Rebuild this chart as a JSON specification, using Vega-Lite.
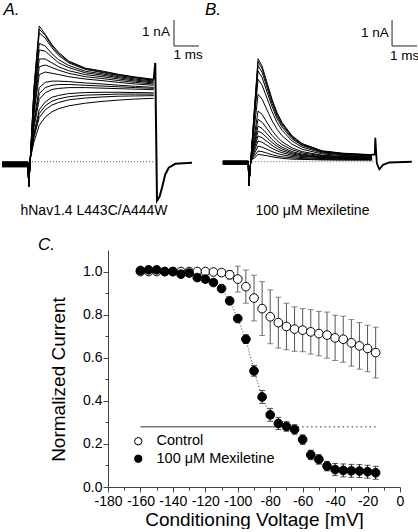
{
"$schema": "https://vega.github.io/schema/vega-lite/v6.json",
"padding": 0,
"background": "white",
"spacing": 19,
"config": {"view": {"stroke": null}, "font": "Liberation Sans", "axis": {"labelFont": "Liberation Sans", "titleFont": "Liberation Sans", "grid": false}},
"datasets": {
"baseA": [{"t": 0, "i": 0}, {"t": 5.05, "i": 0}],
"baseB": [{"t": 0, "i": 0}, {"t": 5.0, "i": 0}],
"barsA": [{"t": 5.8, "i": 4.45, "t2": 5.8, "i2": 5.45}, {"t": 5.8, "i": 4.45, "t2": 6.8, "i2": 4.45}],
"barsB": [{"t": 5.71, "i": 4.45, "t2": 5.71, "i2": 5.45}, {"t": 5.71, "i": 4.45, "t2": 6.71, "i2": 4.45}],
"labelsA": [{"t": 5.08, "i": 4.99, "label": "1 nA"}, {"t": 6.36, "i": 4.1, "label": "1 ms"}],
"labelsB": [{"t": 5.02, "i": 4.95, "label": "1 nA"}, {"t": 6.21, "i": 4.07, "label": "1 ms"}],
"letterA": [{"t": -0.7, "i": 5.85, "label": "A."}],
"letterB": [{"t": -1.45, "i": 5.85, "label": "B."}],
"tailA": [{"t": 4.99, "i": 3.17}, {"t": 5.05, "i": 3.8}, {"t": 5.12, "i": -1.5}, {"t": 5.22, "i": -1.35}, {"t": 5.32, "i": -1.0}, {"t": 5.45, "i": -0.49}, {"t": 5.59, "i": -0.23}, {"t": 5.85, "i": -0.08}, {"t": 6.52, "i": -0.04}],
"tailB": [{"t": 4.91, "i": 0.27}, {"t": 5.02, "i": 0.27}, {"t": 5.04, "i": 0.92}, {"t": 5.1, "i": -0.05}, {"t": 5.2, "i": -0.29}, {"t": 5.35, "i": -0.12}, {"t": 5.6, "i": -0.03}, {"t": 6.5, "i": 0}],
"tracesA": [
{"k":"a1","t":-1.08,"i":-0.2},{"k":"a1","t":-0.04,"i":-0.2},{"k":"a1","t":-0.01,"i":-0.94},{"k":"a1","t":0.05,"i":0.1},{"k":"a1","t":0.2,"i":2.87},{"k":"a1","t":0.41,"i":5.22},{"k":"a1","t":0.65,"i":4.9},{"k":"a1","t":0.92,"i":4.5},{"k":"a1","t":1.19,"i":4.2},{"k":"a1","t":1.59,"i":3.87},{"k":"a1","t":2.25,"i":3.6},{"k":"a1","t":2.92,"i":3.49},{"k":"a1","t":3.59,"i":3.36},{"k":"a1","t":4.25,"i":3.26},{"k":"a1","t":4.99,"i":3.17},
{"k":"a2","t":-1.08,"i":-0.18},{"k":"a2","t":-0.04,"i":-0.18},{"k":"a2","t":-0.01,"i":-0.94},{"k":"a2","t":0.05,"i":0.1},{"k":"a2","t":0.2,"i":2.8},{"k":"a2","t":0.41,"i":5.1},{"k":"a2","t":0.65,"i":4.85},{"k":"a2","t":0.92,"i":4.45},{"k":"a2","t":1.19,"i":4.15},{"k":"a2","t":1.59,"i":3.84},{"k":"a2","t":2.25,"i":3.58},{"k":"a2","t":2.92,"i":3.46},{"k":"a2","t":3.59,"i":3.34},{"k":"a2","t":4.25,"i":3.24},{"k":"a2","t":4.99,"i":3.15},
{"k":"a3","t":-1.08,"i":-0.16},{"k":"a3","t":-0.04,"i":-0.16},{"k":"a3","t":-0.01,"i":-0.94},{"k":"a3","t":0.05,"i":0.1},{"k":"a3","t":0.2,"i":2.72},{"k":"a3","t":0.41,"i":4.95},{"k":"a3","t":0.65,"i":4.75},{"k":"a3","t":0.92,"i":4.38},{"k":"a3","t":1.19,"i":4.08},{"k":"a3","t":1.59,"i":3.8},{"k":"a3","t":2.25,"i":3.55},{"k":"a3","t":2.92,"i":3.43},{"k":"a3","t":3.59,"i":3.31},{"k":"a3","t":4.25,"i":3.22},{"k":"a3","t":4.99,"i":3.13},
{"k":"a4","t":-1.08,"i":-0.14},{"k":"a4","t":-0.04,"i":-0.14},{"k":"a4","t":-0.01,"i":-0.94},{"k":"a4","t":0.05,"i":0.1},{"k":"a4","t":0.2,"i":2.5},{"k":"a4","t":0.41,"i":4.55},{"k":"a4","t":0.65,"i":4.45},{"k":"a4","t":0.92,"i":4.15},{"k":"a4","t":1.19,"i":3.92},{"k":"a4","t":1.59,"i":3.7},{"k":"a4","t":2.25,"i":3.48},{"k":"a4","t":2.92,"i":3.38},{"k":"a4","t":3.59,"i":3.27},{"k":"a4","t":4.25,"i":3.18},{"k":"a4","t":4.99,"i":3.1},
{"k":"a5","t":-1.08,"i":-0.13},{"k":"a5","t":-0.04,"i":-0.13},{"k":"a5","t":-0.01,"i":-0.94},{"k":"a5","t":0.05,"i":0.1},{"k":"a5","t":0.2,"i":2.35},{"k":"a5","t":0.41,"i":4.3},{"k":"a5","t":0.65,"i":4.25},{"k":"a5","t":0.92,"i":4.02},{"k":"a5","t":1.19,"i":3.8},{"k":"a5","t":1.59,"i":3.62},{"k":"a5","t":2.25,"i":3.42},{"k":"a5","t":2.92,"i":3.33},{"k":"a5","t":3.59,"i":3.23},{"k":"a5","t":4.25,"i":3.14},{"k":"a5","t":4.99,"i":3.07},
{"k":"a6","t":-1.08,"i":-0.12},{"k":"a6","t":-0.04,"i":-0.12},{"k":"a6","t":-0.01,"i":-0.94},{"k":"a6","t":0.05,"i":0.1},{"k":"a6","t":0.2,"i":2.17},{"k":"a6","t":0.41,"i":3.95},{"k":"a6","t":0.65,"i":3.95},{"k":"a6","t":0.92,"i":3.8},{"k":"a6","t":1.19,"i":3.65},{"k":"a6","t":1.59,"i":3.5},{"k":"a6","t":2.25,"i":3.35},{"k":"a6","t":2.92,"i":3.27},{"k":"a6","t":3.59,"i":3.18},{"k":"a6","t":4.25,"i":3.1},{"k":"a6","t":4.99,"i":3.03},
{"k":"a7","t":-1.08,"i":-0.11},{"k":"a7","t":-0.04,"i":-0.11},{"k":"a7","t":-0.01,"i":-0.94},{"k":"a7","t":0.05,"i":0.1},{"k":"a7","t":0.2,"i":2.0},{"k":"a7","t":0.41,"i":3.65},{"k":"a7","t":0.65,"i":3.72},{"k":"a7","t":0.92,"i":3.62},{"k":"a7","t":1.19,"i":3.52},{"k":"a7","t":1.59,"i":3.4},{"k":"a7","t":2.25,"i":3.27},{"k":"a7","t":2.92,"i":3.2},{"k":"a7","t":3.59,"i":3.12},{"k":"a7","t":4.25,"i":3.05},{"k":"a7","t":4.99,"i":2.99},
{"k":"a8","t":-1.08,"i":-0.1},{"k":"a8","t":-0.04,"i":-0.1},{"k":"a8","t":-0.01,"i":-0.94},{"k":"a8","t":0.05,"i":0.1},{"k":"a8","t":0.2,"i":1.84},{"k":"a8","t":0.41,"i":3.35},{"k":"a8","t":0.65,"i":3.45},{"k":"a8","t":0.92,"i":3.4},{"k":"a8","t":1.19,"i":3.35},{"k":"a8","t":1.59,"i":3.27},{"k":"a8","t":2.25,"i":3.18},{"k":"a8","t":2.92,"i":3.12},{"k":"a8","t":3.59,"i":3.05},{"k":"a8","t":4.25,"i":2.99},{"k":"a8","t":4.99,"i":2.94},
{"k":"a9","t":-1.08,"i":-0.08},{"k":"a9","t":-0.04,"i":-0.08},{"k":"a9","t":-0.01,"i":-0.94},{"k":"a9","t":0.05,"i":0.1},{"k":"a9","t":0.2,"i":1.57},{"k":"a9","t":0.41,"i":2.85},{"k":"a9","t":0.65,"i":3.05},{"k":"a9","t":0.92,"i":3.1},{"k":"a9","t":1.19,"i":3.1},{"k":"a9","t":1.59,"i":3.08},{"k":"a9","t":2.25,"i":3.03},{"k":"a9","t":2.92,"i":2.99},{"k":"a9","t":3.59,"i":2.94},{"k":"a9","t":4.25,"i":2.9},{"k":"a9","t":4.99,"i":2.86},
{"k":"a10","t":-1.08,"i":-0.07},{"k":"a10","t":-0.04,"i":-0.07},{"k":"a10","t":-0.01,"i":-0.94},{"k":"a10","t":0.05,"i":0.1},{"k":"a10","t":0.2,"i":1.45},{"k":"a10","t":0.41,"i":2.62},{"k":"a10","t":0.65,"i":2.85},{"k":"a10","t":0.92,"i":2.94},{"k":"a10","t":1.19,"i":2.97},{"k":"a10","t":1.59,"i":2.97},{"k":"a10","t":2.25,"i":2.94},{"k":"a10","t":2.92,"i":2.91},{"k":"a10","t":3.59,"i":2.88},{"k":"a10","t":4.25,"i":2.85},{"k":"a10","t":4.99,"i":2.82},
{"k":"a11","t":-1.08,"i":-0.06},{"k":"a11","t":-0.04,"i":-0.06},{"k":"a11","t":-0.01,"i":-0.94},{"k":"a11","t":0.05,"i":0.1},{"k":"a11","t":0.2,"i":1.32},{"k":"a11","t":0.41,"i":2.4},{"k":"a11","t":0.65,"i":2.65},{"k":"a11","t":0.92,"i":2.78},{"k":"a11","t":1.19,"i":2.82},{"k":"a11","t":1.59,"i":2.85},{"k":"a11","t":2.25,"i":2.85},{"k":"a11","t":2.92,"i":2.83},{"k":"a11","t":3.59,"i":2.81},{"k":"a11","t":4.25,"i":2.79},{"k":"a11","t":4.99,"i":2.77},
{"k":"a12","t":-1.08,"i":-0.04},{"k":"a12","t":-0.04,"i":-0.04},{"k":"a12","t":-0.01,"i":-0.94},{"k":"a12","t":0.05,"i":0.1},{"k":"a12","t":0.2,"i":1.1},{"k":"a12","t":0.41,"i":2.0},{"k":"a12","t":0.65,"i":2.3},{"k":"a12","t":0.92,"i":2.48},{"k":"a12","t":1.19,"i":2.55},{"k":"a12","t":1.59,"i":2.62},{"k":"a12","t":2.25,"i":2.66},{"k":"a12","t":2.92,"i":2.67},{"k":"a12","t":3.59,"i":2.67},{"k":"a12","t":4.25,"i":2.66},{"k":"a12","t":4.99,"i":2.65},
{"k":"a13","t":-1.08,"i":-0.03},{"k":"a13","t":-0.04,"i":-0.03},{"k":"a13","t":-0.01,"i":-0.94},{"k":"a13","t":0.05,"i":0.1},{"k":"a13","t":0.2,"i":1.02},{"k":"a13","t":0.41,"i":1.85},{"k":"a13","t":0.65,"i":2.15},{"k":"a13","t":0.92,"i":2.33},{"k":"a13","t":1.19,"i":2.42},{"k":"a13","t":1.59,"i":2.5},{"k":"a13","t":2.25,"i":2.56},{"k":"a13","t":2.92,"i":2.58},{"k":"a13","t":3.59,"i":2.6},{"k":"a13","t":4.25,"i":2.6},{"k":"a13","t":4.99,"i":2.6},
{"k":"a14","t":-1.08,"i":-0.02},{"k":"a14","t":-0.04,"i":-0.02},{"k":"a14","t":-0.01,"i":-0.94},{"k":"a14","t":0.05,"i":0.1},{"k":"a14","t":0.2,"i":0.94},{"k":"a14","t":0.41,"i":1.7},{"k":"a14","t":0.65,"i":2.0},{"k":"a14","t":0.92,"i":2.18},{"k":"a14","t":1.19,"i":2.28},{"k":"a14","t":1.59,"i":2.38},{"k":"a14","t":2.25,"i":2.45},{"k":"a14","t":2.92,"i":2.49},{"k":"a14","t":3.59,"i":2.52},{"k":"a14","t":4.25,"i":2.53},{"k":"a14","t":4.99,"i":2.54},
{"k":"a15","t":-1.08,"i":0.0},{"k":"a15","t":-0.04,"i":0.0},{"k":"a15","t":-0.01,"i":-0.94},{"k":"a15","t":0.05,"i":0.1},{"k":"a15","t":0.2,"i":0.77},{"k":"a15","t":0.41,"i":1.4},{"k":"a15","t":0.65,"i":1.72},{"k":"a15","t":0.92,"i":1.92},{"k":"a15","t":1.19,"i":2.04},{"k":"a15","t":1.59,"i":2.15},{"k":"a15","t":2.25,"i":2.25},{"k":"a15","t":2.92,"i":2.32},{"k":"a15","t":3.59,"i":2.37},{"k":"a15","t":4.25,"i":2.41},{"k":"a15","t":4.99,"i":2.44}
],
"tracesB": [
{"k":"b1","t":-1.06,"i":-0.1},{"k":"b1","t":-0.04,"i":-0.1},{"k":"b1","t":-0.02,"i":-0.93},{"k":"b1","t":0.06,"i":0.05},{"k":"b1","t":0.2,"i":1.98},{"k":"b1","t":0.35,"i":3.96},{"k":"b1","t":0.51,"i":3.68},{"k":"b1","t":0.71,"i":3.04},{"k":"b1","t":0.91,"i":2.4},{"k":"b1","t":1.11,"i":1.89},{"k":"b1","t":1.31,"i":1.51},{"k":"b1","t":1.71,"i":1.0},{"k":"b1","t":2.11,"i":0.7},{"k":"b1","t":2.91,"i":0.42},{"k":"b1","t":3.71,"i":0.33},{"k":"b1","t":4.91,"i":0.27},
{"k":"b2","t":-1.06,"i":-0.09},{"k":"b2","t":-0.04,"i":-0.09},{"k":"b2","t":-0.02,"i":-0.93},{"k":"b2","t":0.06,"i":0.05},{"k":"b2","t":0.2,"i":1.93},{"k":"b2","t":0.35,"i":3.85},{"k":"b2","t":0.51,"i":3.58},{"k":"b2","t":0.71,"i":2.96},{"k":"b2","t":0.91,"i":2.34},{"k":"b2","t":1.11,"i":1.83},{"k":"b2","t":1.31,"i":1.46},{"k":"b2","t":1.71,"i":0.97},{"k":"b2","t":2.11,"i":0.68},{"k":"b2","t":2.91,"i":0.41},{"k":"b2","t":3.71,"i":0.32},{"k":"b2","t":4.91,"i":0.26},
{"k":"b3","t":-1.06,"i":-0.08},{"k":"b3","t":-0.04,"i":-0.08},{"k":"b3","t":-0.02,"i":-0.93},{"k":"b3","t":0.06,"i":0.05},{"k":"b3","t":0.2,"i":1.85},{"k":"b3","t":0.35,"i":3.7},{"k":"b3","t":0.51,"i":3.44},{"k":"b3","t":0.71,"i":2.84},{"k":"b3","t":0.91,"i":2.24},{"k":"b3","t":1.11,"i":1.76},{"k":"b3","t":1.31,"i":1.41},{"k":"b3","t":1.71,"i":0.93},{"k":"b3","t":2.11,"i":0.65},{"k":"b3","t":2.91,"i":0.39},{"k":"b3","t":3.71,"i":0.31},{"k":"b3","t":4.91,"i":0.25},
{"k":"b4","t":-1.06,"i":-0.07},{"k":"b4","t":-0.04,"i":-0.07},{"k":"b4","t":-0.02,"i":-0.93},{"k":"b4","t":0.06,"i":0.05},{"k":"b4","t":0.2,"i":1.75},{"k":"b4","t":0.35,"i":3.49},{"k":"b4","t":0.51,"i":3.24},{"k":"b4","t":0.71,"i":2.68},{"k":"b4","t":0.91,"i":2.12},{"k":"b4","t":1.11,"i":1.66},{"k":"b4","t":1.31,"i":1.33},{"k":"b4","t":1.71,"i":0.88},{"k":"b4","t":2.11,"i":0.62},{"k":"b4","t":2.91,"i":0.37},{"k":"b4","t":3.71,"i":0.29},{"k":"b4","t":4.91,"i":0.24},
{"k":"b5","t":-1.06,"i":-0.06},{"k":"b5","t":-0.04,"i":-0.06},{"k":"b5","t":-0.02,"i":-0.93},{"k":"b5","t":0.06,"i":0.05},{"k":"b5","t":0.2,"i":1.59},{"k":"b5","t":0.35,"i":3.17},{"k":"b5","t":0.51,"i":2.95},{"k":"b5","t":0.71,"i":2.44},{"k":"b5","t":0.91,"i":1.93},{"k":"b5","t":1.11,"i":1.51},{"k":"b5","t":1.31,"i":1.21},{"k":"b5","t":1.71,"i":0.8},{"k":"b5","t":2.11,"i":0.56},{"k":"b5","t":2.91,"i":0.34},{"k":"b5","t":3.71,"i":0.27},{"k":"b5","t":4.91,"i":0.22},
{"k":"b6","t":-1.06,"i":-0.05},{"k":"b6","t":-0.04,"i":-0.05},{"k":"b6","t":-0.02,"i":-0.93},{"k":"b6","t":0.06,"i":0.05},{"k":"b6","t":0.2,"i":1.3},{"k":"b6","t":0.35,"i":2.59},{"k":"b6","t":0.51,"i":2.41},{"k":"b6","t":0.71,"i":1.99},{"k":"b6","t":0.91,"i":1.58},{"k":"b6","t":1.11,"i":1.25},{"k":"b6","t":1.31,"i":1.0},{"k":"b6","t":1.71,"i":0.67},{"k":"b6","t":2.11,"i":0.48},{"k":"b6","t":2.91,"i":0.3},{"k":"b6","t":3.71,"i":0.24},{"k":"b6","t":4.91,"i":0.2},
{"k":"b7","t":-1.06,"i":-0.04},{"k":"b7","t":-0.04,"i":-0.04},{"k":"b7","t":-0.02,"i":-0.93},{"k":"b7","t":0.06,"i":0.05},{"k":"b7","t":0.2,"i":0.98},{"k":"b7","t":0.35,"i":1.95},{"k":"b7","t":0.51,"i":1.82},{"k":"b7","t":0.71,"i":1.51},{"k":"b7","t":0.91,"i":1.2},{"k":"b7","t":1.11,"i":0.96},{"k":"b7","t":1.31,"i":0.77},{"k":"b7","t":1.71,"i":0.53},{"k":"b7","t":2.11,"i":0.39},{"k":"b7","t":2.91,"i":0.25},{"k":"b7","t":3.71,"i":0.21},{"k":"b7","t":4.91,"i":0.18},
{"k":"b8","t":-1.06,"i":-0.03},{"k":"b8","t":-0.04,"i":-0.03},{"k":"b8","t":-0.02,"i":-0.93},{"k":"b8","t":0.06,"i":0.05},{"k":"b8","t":0.2,"i":0.82},{"k":"b8","t":0.35,"i":1.63},{"k":"b8","t":0.51,"i":1.52},{"k":"b8","t":0.71,"i":1.27},{"k":"b8","t":0.91,"i":1.01},{"k":"b8","t":1.11,"i":0.81},{"k":"b8","t":1.31,"i":0.66},{"k":"b8","t":1.71,"i":0.46},{"k":"b8","t":2.11,"i":0.34},{"k":"b8","t":2.91,"i":0.23},{"k":"b8","t":3.71,"i":0.19},{"k":"b8","t":4.91,"i":0.17},
{"k":"b9","t":-1.06,"i":-0.02},{"k":"b9","t":-0.04,"i":-0.02},{"k":"b9","t":-0.02,"i":-0.93},{"k":"b9","t":0.06,"i":0.05},{"k":"b9","t":0.2,"i":0.69},{"k":"b9","t":0.35,"i":1.37},{"k":"b9","t":0.51,"i":1.28},{"k":"b9","t":0.71,"i":1.07},{"k":"b9","t":0.91,"i":0.86},{"k":"b9","t":1.11,"i":0.68},{"k":"b9","t":1.31,"i":0.56},{"k":"b9","t":1.71,"i":0.39},{"k":"b9","t":2.11,"i":0.29},{"k":"b9","t":2.91,"i":0.2},{"k":"b9","t":3.71,"i":0.17},{"k":"b9","t":4.91,"i":0.15},
{"k":"b10","t":-1.06,"i":-0.01},{"k":"b10","t":-0.04,"i":-0.01},{"k":"b10","t":-0.02,"i":-0.93},{"k":"b10","t":0.06,"i":0.05},{"k":"b10","t":0.2,"i":0.59},{"k":"b10","t":0.35,"i":1.18},{"k":"b10","t":0.51,"i":1.1},{"k":"b10","t":0.71,"i":0.92},{"k":"b10","t":0.91,"i":0.74},{"k":"b10","t":1.11,"i":0.6},{"k":"b10","t":1.31,"i":0.49},{"k":"b10","t":1.71,"i":0.34},{"k":"b10","t":2.11,"i":0.26},{"k":"b10","t":2.91,"i":0.18},{"k":"b10","t":3.71,"i":0.16},{"k":"b10","t":4.91,"i":0.14},
{"k":"b11","t":-1.06,"i":0.0},{"k":"b11","t":-0.04,"i":0.0},{"k":"b11","t":-0.02,"i":-0.93},{"k":"b11","t":0.06,"i":0.05},{"k":"b11","t":0.2,"i":0.5},{"k":"b11","t":0.35,"i":0.99},{"k":"b11","t":0.51,"i":0.92},{"k":"b11","t":0.71,"i":0.78},{"k":"b11","t":0.91,"i":0.63},{"k":"b11","t":1.11,"i":0.51},{"k":"b11","t":1.31,"i":0.42},{"k":"b11","t":1.71,"i":0.3},{"k":"b11","t":2.11,"i":0.23},{"k":"b11","t":2.91,"i":0.17},{"k":"b11","t":3.71,"i":0.14},{"k":"b11","t":4.91,"i":0.13},
{"k":"b12","t":-1.06,"i":0.01},{"k":"b12","t":-0.04,"i":0.01},{"k":"b12","t":-0.02,"i":-0.93},{"k":"b12","t":0.06,"i":0.05},{"k":"b12","t":0.2,"i":0.4},{"k":"b12","t":0.35,"i":0.8},{"k":"b12","t":0.51,"i":0.75},{"k":"b12","t":0.71,"i":0.63},{"k":"b12","t":0.91,"i":0.51},{"k":"b12","t":1.11,"i":0.42},{"k":"b12","t":1.31,"i":0.35},{"k":"b12","t":1.71,"i":0.25},{"k":"b12","t":2.11,"i":0.2},{"k":"b12","t":2.91,"i":0.15},{"k":"b12","t":3.71,"i":0.13},{"k":"b12","t":4.91,"i":0.12},
{"k":"b13","t":-1.06,"i":0.02},{"k":"b13","t":-0.04,"i":0.02},{"k":"b13","t":-0.02,"i":-0.93},{"k":"b13","t":0.06,"i":0.05},{"k":"b13","t":0.2,"i":0.3},{"k":"b13","t":0.35,"i":0.6},{"k":"b13","t":0.51,"i":0.56},{"k":"b13","t":0.71,"i":0.48},{"k":"b13","t":0.91,"i":0.39},{"k":"b13","t":1.11,"i":0.32},{"k":"b13","t":1.31,"i":0.27},{"k":"b13","t":1.71,"i":0.2},{"k":"b13","t":2.11,"i":0.16},{"k":"b13","t":2.91,"i":0.12},{"k":"b13","t":3.71,"i":0.11},{"k":"b13","t":4.91,"i":0.1},
{"k":"b14","t":-1.06,"i":0.02},{"k":"b14","t":-0.04,"i":0.02},{"k":"b14","t":-0.02,"i":-0.93},{"k":"b14","t":0.06,"i":0.05},{"k":"b14","t":0.2,"i":0.21},{"k":"b14","t":0.35,"i":0.41},{"k":"b14","t":0.51,"i":0.39},{"k":"b14","t":0.71,"i":0.33},{"k":"b14","t":0.91,"i":0.27},{"k":"b14","t":1.11,"i":0.22},{"k":"b14","t":1.31,"i":0.19},{"k":"b14","t":1.71,"i":0.15},{"k":"b14","t":2.11,"i":0.12},{"k":"b14","t":2.91,"i":0.09},{"k":"b14","t":3.71,"i":0.09},{"k":"b14","t":4.91,"i":0.08},
{"k":"b15","t":-1.06,"i":0.03},{"k":"b15","t":-0.04,"i":0.03},{"k":"b15","t":-0.02,"i":-0.93},{"k":"b15","t":0.06,"i":0.05},{"k":"b15","t":0.2,"i":0.14},{"k":"b15","t":0.35,"i":0.28},{"k":"b15","t":0.51,"i":0.26},{"k":"b15","t":0.71,"i":0.23},{"k":"b15","t":0.91,"i":0.19},{"k":"b15","t":1.11,"i":0.16},{"k":"b15","t":1.31,"i":0.13},{"k":"b15","t":1.71,"i":0.1},{"k":"b15","t":2.11,"i":0.09},{"k":"b15","t":2.91,"i":0.07},{"k":"b15","t":3.71,"i":0.06},{"k":"b15","t":4.91,"i":0.06}
],
"hline": [{"v": -160, "v2": -77, "m": 0.28, "seg": "solid"}, {"v": -77, "v2": -14, "m": 0.28, "seg": "dotted"}],
"curve": [
{"s":"Control","v":-160,"m":1.0,"e":0.005},{"s":"Control","v":-155,"m":1.0,"e":0.005},{"s":"Control","v":-150,"m":1.0,"e":0.005},{"s":"Control","v":-145,"m":1.0,"e":0.005},{"s":"Control","v":-140,"m":1.0,"e":0.005},{"s":"Control","v":-135,"m":1.0,"e":0.005},{"s":"Control","v":-130,"m":1.0,"e":0.008},{"s":"Control","v":-125,"m":1.0,"e":0.01},{"s":"Control","v":-120,"m":1.0,"e":0.01},{"s":"Control","v":-115,"m":0.998,"e":0.012},{"s":"Control","v":-110,"m":0.995,"e":0.015},{"s":"Control","v":-105,"m":0.985,"e":0.02},{"s":"Control","v":-100,"m":0.965,"e":0.06},{"s":"Control","v":-95,"m":0.93,"e":0.077},{"s":"Control","v":-90,"m":0.877,"e":0.106},{"s":"Control","v":-85,"m":0.828,"e":0.125},{"s":"Control","v":-80,"m":0.79,"e":0.125},{"s":"Control","v":-75,"m":0.763,"e":0.118},{"s":"Control","v":-70,"m":0.745,"e":0.108},{"s":"Control","v":-65,"m":0.733,"e":0.103},{"s":"Control","v":-60,"m":0.728,"e":0.1},{"s":"Control","v":-55,"m":0.72,"e":0.103},{"s":"Control","v":-50,"m":0.712,"e":0.103},{"s":"Control","v":-45,"m":0.705,"e":0.107},{"s":"Control","v":-40,"m":0.692,"e":0.105},{"s":"Control","v":-35,"m":0.686,"e":0.107},{"s":"Control","v":-30,"m":0.669,"e":0.108},{"s":"Control","v":-25,"m":0.655,"e":0.108},{"s":"Control","v":-20,"m":0.643,"e":0.108},{"s":"Control","v":-15,"m":0.624,"e":0.118},
{"s":"100 μM Mexiletine","v":-160,"m":1.005,"e":0.005},{"s":"100 μM Mexiletine","v":-155,"m":1.008,"e":0.005},{"s":"100 μM Mexiletine","v":-150,"m":1.008,"e":0.005},{"s":"100 μM Mexiletine","v":-145,"m":1.0,"e":0.006},{"s":"100 μM Mexiletine","v":-140,"m":1.0,"e":0.006},{"s":"100 μM Mexiletine","v":-135,"m":0.988,"e":0.008},{"s":"100 μM Mexiletine","v":-130,"m":0.993,"e":0.008},{"s":"100 μM Mexiletine","v":-125,"m":0.972,"e":0.01},{"s":"100 μM Mexiletine","v":-120,"m":0.965,"e":0.01},{"s":"100 μM Mexiletine","v":-115,"m":0.949,"e":0.012},{"s":"100 μM Mexiletine","v":-110,"m":0.921,"e":0.012},{"s":"100 μM Mexiletine","v":-105,"m":0.864,"e":0.015},{"s":"100 μM Mexiletine","v":-100,"m":0.782,"e":0.015},{"s":"100 μM Mexiletine","v":-95,"m":0.686,"e":0.02},{"s":"100 μM Mexiletine","v":-90,"m":0.539,"e":0.025},{"s":"100 μM Mexiletine","v":-85,"m":0.418,"e":0.03},{"s":"100 μM Mexiletine","v":-80,"m":0.335,"e":0.03},{"s":"100 μM Mexiletine","v":-75,"m":0.295,"e":0.028},{"s":"100 μM Mexiletine","v":-70,"m":0.281,"e":0.022},{"s":"100 μM Mexiletine","v":-65,"m":0.267,"e":0.022},{"s":"100 μM Mexiletine","v":-60,"m":0.22,"e":0.022},{"s":"100 μM Mexiletine","v":-55,"m":0.149,"e":0.022},{"s":"100 μM Mexiletine","v":-50,"m":0.128,"e":0.022},{"s":"100 μM Mexiletine","v":-45,"m":0.097,"e":0.022},{"s":"100 μM Mexiletine","v":-40,"m":0.081,"e":0.028},{"s":"100 μM Mexiletine","v":-35,"m":0.077,"e":0.03},{"s":"100 μM Mexiletine","v":-30,"m":0.075,"e":0.03},{"s":"100 μM Mexiletine","v":-25,"m":0.074,"e":0.03},{"s":"100 μM Mexiletine","v":-20,"m":0.071,"e":0.03},{"s":"100 μM Mexiletine","v":-15,"m":0.066,"e":0.03}
]
},
"vconcat": [
{
"hconcat": [
{
"width": 200, "height": 200,
"encoding": {
"x": {"field": "t", "type": "quantitative", "scale": {"domain": [-1.08, 6.92], "nice": false, "zero": false},
"axis": {"title": "hNav1.4 L443C/A444W", "domain": false, "ticks": false, "labels": false, "grid": false, "titleFontSize": 14, "titleFontWeight": "normal", "titlePadding": 2, "titleX": 91.5, "titleColor": "black"}},
"y": {"field": "i", "type": "quantitative", "scale": {"domain": [-1.51, 6.18], "nice": false, "zero": false}, "axis": null}
},
"layer": [
{"data": {"name": "baseA"}, "mark": {"type": "line", "strokeDash": [1, 2], "color": "#555", "strokeWidth": 1}},
{"data": {"name": "tracesA"}, "mark": {"type": "line", "color": "black", "strokeWidth": 1}, "encoding": {"detail": {"field": "k", "type": "nominal"}}},
{"data": {"name": "tailA"}, "mark": {"type": "line", "color": "black", "strokeWidth": 2}},
{"data": {"name": "barsA"}, "mark": {"type": "rule", "color": "#222", "strokeWidth": 1}, "encoding": {"x2": {"field": "t2"}, "y2": {"field": "i2"}}},
{"data": {"name": "labelsA"}, "mark": {"type": "text", "fontSize": 13.5, "color": "black"}, "encoding": {"text": {"field": "label", "type": "nominal"}}},
{"data": {"name": "letterA"}, "mark": {"type": "text", "fontSize": 17, "fontStyle": "italic", "color": "black"}, "encoding": {"text": {"field": "label", "type": "nominal"}}}
]
},
{
"width": 210, "height": 200,
"encoding": {
"x": {"field": "t", "type": "quantitative", "scale": {"domain": [-1.572, 6.828], "nice": false, "zero": false},
"axis": {"title": "100 μM Mexiletine", "domain": false, "ticks": false, "labels": false, "grid": false, "titleFontSize": 14, "titleFontWeight": "normal", "titlePadding": 2, "titleX": 102, "titleColor": "black"}},
"y": {"field": "i", "type": "quantitative", "scale": {"domain": [-1.51, 6.18], "nice": false, "zero": false}, "axis": null}
},
"layer": [
{"data": {"name": "baseB"}, "mark": {"type": "line", "strokeDash": [1, 2], "color": "#555", "strokeWidth": 1}},
{"data": {"name": "tracesB"}, "mark": {"type": "line", "color": "black", "strokeWidth": 1}, "encoding": {"detail": {"field": "k", "type": "nominal"}}},
{"data": {"name": "tailB"}, "mark": {"type": "line", "color": "black", "strokeWidth": 1.8}},
{"data": {"name": "barsB"}, "mark": {"type": "rule", "color": "#222", "strokeWidth": 1}, "encoding": {"x2": {"field": "t2"}, "y2": {"field": "i2"}}},
{"data": {"name": "labelsB"}, "mark": {"type": "text", "fontSize": 13.5, "color": "black"}, "encoding": {"text": {"field": "label", "type": "nominal"}}},
{"data": {"name": "letterB"}, "mark": {"type": "text", "fontSize": 17, "fontStyle": "italic", "color": "black"}, "encoding": {"text": {"field": "label", "type": "nominal"}}}
]
}
],
"spacing": 8,
"bounds": "flush"
},
{
"hconcat": [
{"width": 98, "height": 237, "data": {"values": [{}]}, "mark": {"type": "point", "opacity": 0}, "encoding": {}},
{
"width": 292, "height": 237,
"title": {"text": "C.", "anchor": "start", "frame": "group", "fontStyle": "italic", "fontSize": 17, "fontWeight": "normal", "dx": -70, "offset": -4, "color": "black"},
"data": {"name": "curve"},
"encoding": {
"x": {"field": "v", "type": "quantitative", "scale": {"domain": [-180, 0], "nice": false, "zero": false},
"axis": {"title": "Conditioning Voltage [mV]", "values": [-180, -170, -160, -150, -140, -130, -120, -110, -100, -90, -80, -70, -60, -50, -40, -30, -20, -10, 0],
"labelExpr": "datum.value % 20 === 0 ? '' + datum.value : ''",
"tickSize": {"condition": {"test": "datum.value % 20 === 0", "value": 5}, "value": 3},
"labelFontSize": 14, "labelPadding": 2, "labelOverlap": false, "labelFlush": false, "labelColor": "black",
"titleFontSize": 19, "titleFontWeight": "normal", "titlePadding": 2, "titleColor": "black",
"domainColor": "#444", "tickColor": "#444", "grid": false}},
"y": {"field": "m", "type": "quantitative", "scale": {"domain": [0, 1.1], "nice": false, "zero": true},
"axis": {"title": "Normalized Current", "values": [0, 0.1, 0.2, 0.3, 0.4, 0.5, 0.6, 0.7, 0.8, 0.9, 1.0],
"labelExpr": "round(datum.value * 10) % 2 === 0 ? format(datum.value, '.1f') : ''",
"tickSize": {"condition": {"test": "round(datum.value * 10) % 2 === 0", "value": 5}, "value": 3},
"labelFontSize": 14, "labelPadding": 1, "labelColor": "black", "labelOverlap": false,
"titleFontSize": 19, "titleFontWeight": "normal", "titlePadding": 14, "titleY": 129, "titleColor": "black",
"domainColor": "#444", "tickColor": "#444", "grid": false}}
},
"layer": [
{"data": {"name": "hline"}, "mark": {"type": "rule", "color": "#777", "strokeWidth": 1.5},
"encoding": {"x2": {"field": "v2"}, "strokeDash": {"field": "seg", "type": "nominal", "scale": {"domain": ["solid", "dotted"], "range": [[1, 0], [1.5, 3]]}, "legend": null}}},
{"transform": [{"filter": "datum.s !== 'Control' && datum.v >= -110 && datum.v <= -75"}], "mark": {"type": "line", "strokeDash": [1, 2], "color": "#333", "strokeWidth": 1}},
{"transform": [{"filter": "datum.s === 'Control'"}], "mark": {"type": "errorbar", "ticks": {"size": 6}, "thickness": 1, "color": "#555"}, "encoding": {"yError": {"field": "e"}}},
{"transform": [{"filter": "datum.s !== 'Control'"}], "mark": {"type": "errorbar", "ticks": {"size": 6}, "thickness": 1, "color": "#111"}, "encoding": {"yError": {"field": "e"}}},
{"mark": {"type": "circle", "stroke": "black", "strokeWidth": 1, "size": 75, "opacity": 1},
"encoding": {"fill": {"field": "s", "type": "nominal", "scale": {"domain": ["Control", "100 μM Mexiletine"], "range": ["white", "black"]},
"legend": {"orient": "none", "legendX": 129, "legendY": 433, "title": null, "direction": "vertical", "labelFontSize": 14.5, "labelFont": "Liberation Sans", "labelColor": "black", "symbolType": "circle", "symbolSize": 55, "symbolStrokeColor": "black", "symbolStrokeWidth": 1, "symbolOpacity": 1, "padding": 0, "rowPadding": 2.5, "labelOffset": 11}}}}
]
}
],
"spacing": 8,
"bounds": "flush"
}
]
}
